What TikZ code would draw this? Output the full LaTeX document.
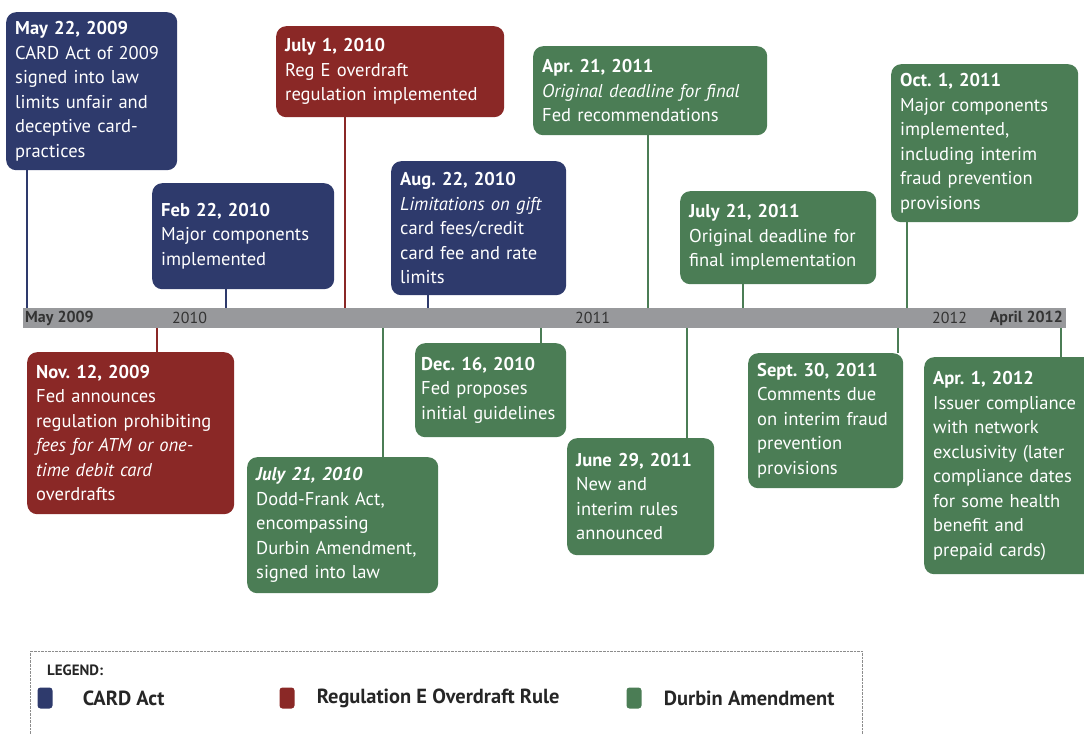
\documentclass[tikz,border=0pt]{standalone}
\usepackage{fontspec}
\setmainfont{PT Sans}
\usetikzlibrary{positioning}
\definecolor{cardblue}{HTML}{2E3A6C}
\definecolor{regred}{HTML}{8A2826}
\definecolor{durgreen}{HTML}{4B7D55}
\definecolor{axisgray}{HTML}{98999C}
\definecolor{axistext}{HTML}{333333}
\frenchspacing
\hyphenpenalty=10000

\begin{document}
\begin{tikzpicture}
[x=1bp, y=-1bp, node distance=22bp,
 event/.style={anchor=north west, rounded corners=10bp, text=white, align=left,
   inner xsep=9bp, inner ysep=0pt, font=\fontsize{18.6}{24.6}\selectfont},
 card/.style={event, fill=cardblue},
 rege/.style={event, fill=regred},
 durb/.style={event, fill=durgreen},
 tick/.style={line width=2.4bp},
 yearlbl/.style={inner sep=0pt, text=axistext, font=\fontsize{16}{16}\selectfont},
 key/.style={minimum width=15bp, minimum height=21bp, inner sep=0pt, rounded corners=3bp},
 keylbl/.style={inner sep=0pt, text=black!85, font=\fontsize{20.5}{20.5}\selectfont\bfseries}]
\useasboundingbox (0,0) rectangle (1084,735);

\node[fill=axisgray, anchor=north west, minimum width=1043bp, minimum height=20bp,
  inner sep=0pt] (axis) at (23,308) {};
\node[yearlbl, anchor=west] (ya) at (25,318) {\textbf{May 2009}};
\node[yearlbl, anchor=west] (yb) at (172,318) {2010};
\node[yearlbl, anchor=west] (yc) at (575,318) {2011};
\node[yearlbl, anchor=west] (yd) at (932,318) {2012};
\node[yearlbl, anchor=east] (ye) at (1063,318) {\textbf{April 2012}};

\node[card, text width=153bp, minimum height=158bp] (ca) at (6,12)
  {\textbf{May 22, 2009}\\CARD Act of 2009\\signed into law\\limits unfair and\\deceptive card-\\practices};
\node[card, text width=164bp, minimum height=106bp] (cb) at (152,183)
  {\textbf{Feb 22, 2010}\\Major components\\implemented};
\node[card, text width=157bp, minimum height=134bp] (cc) at (391,161)
  {\textbf{Aug. 22, 2010}\\\textit{Limitations on gift}\\card fees/credit\\card fee and rate\\limits};
\node[rege, text width=210bp, minimum height=91bp] (ra) at (276,26)
  {\textbf{July 1, 2010}\\Reg E overdraft\\regulation implemented};
\node[rege, text width=189bp, minimum height=162bp] (rb) at (27,352)
  {\textbf{Nov. 12, 2009}\\Fed announces\\regulation prohibiting\\\textit{fees for ATM or one-}\\\textit{time debit card}\\overdrafts};
\node[durb, text width=216bp, minimum height=89bp] (da) at (533,46)
  {\textbf{Apr. 21, 2011}\\\textit{Original deadline for final}\\Fed recommendations};
\node[durb, text width=178bp, minimum height=93bp] (db) at (680,191)
  {\textbf{July 21, 2011}\\Original deadline for\\final implementation};
\node[durb, text width=169bp, minimum height=158bp] (dc) at (891,64)
  {\textbf{Oct. 1, 2011}\\Major components\\implemented,\\including interim\\fraud prevention\\provisions};
\node[durb, text width=173bp, minimum height=136bp] (dd) at (247,457)
  {\textbf{\textit{July 21, 2010}}\\Dodd-Frank Act,\\encompassing\\Durbin Amendment,\\signed into law};
\node[durb, inner xsep=6bp, text width=139bp, minimum height=94bp] (de) at (415,343)
  {\textbf{Dec. 16, 2010}\\Fed proposes\\initial guidelines};
\node[durb, text width=129bp, minimum height=117bp] (df) at (567,438)
  {\textbf{June 29, 2011}\\New and\\interim rules\\announced};
\node[durb, text width=137bp, minimum height=135bp] (dg) at (748,353)
  {\textbf{Sept. 30, 2011}\\Comments due\\on interim fraud\\prevention\\provisions};
\node[durb, text width=160bp, minimum height=217bp] (dh) at (924,357)
  {\textbf{Apr. 1, 2012}\\Issuer compliance\\with network\\exclusivity (later\\compliance dates\\for some health\\benefit and\\prepaid cards)};

\foreach \n/\x/\c in {ca/27/cardblue, cb/226/cardblue, cc/428/cardblue, ra/345/regred,
  da/648/durgreen, db/743/durgreen, dc/907/durgreen}
  \draw[tick, \c] (\n.south -| \x,0) -- (axis.north -| \x,0);
\foreach \n/\x/\c in {rb/157/regred, dd/383/durgreen, de/541/durgreen, df/687/durgreen,
  dg/898/durgreen, dh/1061/durgreen}
  \draw[tick, \c] (axis.south -| \x,0) -- (\n.north -| \x,0);

\draw[black!45, densely dotted] (30,745) -- (30,651) -- (862,651) -- (862,745);
\node[inner sep=0pt, anchor=west, text=black!85, font=\fontsize{15}{15}\selectfont\bfseries]
  (lg) at (47,670) {LEGEND:};
\node[key, fill=cardblue] (ka) at (45,698) {};
\node[keylbl, right=30bp of ka] (la) {CARD Act};
\node[key, fill=regred] (kb) at (287,698) {};
\node[keylbl, right=of kb] (lb) {Regulation E Overdraft Rule};
\node[key, fill=durgreen] (kc) at (634,698) {};
\node[keylbl, right=of kc] (lc) {Durbin Amendment};
\end{tikzpicture}
\end{document}
